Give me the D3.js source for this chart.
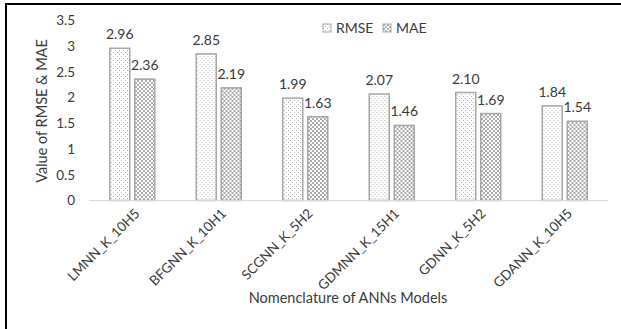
<!DOCTYPE html>
<html>
<head>
<meta charset="utf-8">
<script src="https://cdn.jsdelivr.net/npm/d3@7"></script>
<style>
	body { margin: 0; background: #fff; }
	svg { display: block; }
	text { font-family: Lato, "Open Sans", sans-serif; fill: #3a3a3a; }
</style>
</head>
<body>
<svg id="chart" width="621" height="329"></svg>
<script>
'use strict';

var categories = ['LMNN_K_10H5', 'BFGNN_K_10H1', 'SCGNN_K_5H2', 'GDMNN_K_15H1', 'GDNN_K_5H2', 'GDANN_K_10H5'];
var seriesNames = ['RMSE', 'MAE'];
var rmseValues = [2.96, 2.85, 1.99, 2.07, 2.10, 1.84];
var maeValues = [2.36, 2.19, 1.63, 1.46, 1.69, 1.54];
var yTicks = [0, 0.5, 1, 1.5, 2, 2.5, 3, 3.5];

var svg = d3.select('#chart');

// outer frame (only left and top edges visible in the crop)
svg.append('path')
	.attr('d', 'M6,340 L6,4 L630,4')
	.attr('fill', 'none')
	.attr('stroke', '#000')
	.attr('stroke-width', 2);

// patterns
var defs = svg.append('defs');
var p1 = defs.append('pattern')
	.attr('id', 'pat-rmse')
	.attr('patternUnits', 'userSpaceOnUse')
	.attr('width', 4).attr('height', 4);
p1.append('rect').attr('width', 4).attr('height', 4).attr('fill', '#fff');
p1.append('rect').attr('x', 0).attr('y', 0).attr('width', 1).attr('height', 1).attr('fill', '#b4b4b4');
p1.append('rect').attr('x', 2).attr('y', 2).attr('width', 1).attr('height', 1).attr('fill', '#b4b4b4');

var p2 = defs.append('pattern')
	.attr('id', 'pat-mae')
	.attr('patternUnits', 'userSpaceOnUse')
	.attr('width', 4).attr('height', 4);
p2.append('rect').attr('width', 4).attr('height', 4).attr('fill', '#fff');
p2.append('circle').attr('cx', 1).attr('cy', 1).attr('r', 1.1).attr('fill', '#a0a0a0');
p2.append('circle').attr('cx', 3).attr('cy', 3).attr('r', 1.1).attr('fill', '#a0a0a0');

var fills = { RMSE: 'url(#pat-rmse)', MAE: 'url(#pat-mae)' };

var x0 = d3.scaleBand()
	.domain(categories)
	.range([89, 608]);

var inner = (x0.bandwidth() - 45) / 2;
var x1 = d3.scaleBand()
	.domain(seriesNames)
	.range([inner, inner + 45])
	.paddingInner(0.2);

var y = d3.scaleLinear()
	.domain([0, 3.5])
	.range([200.5, 20.5]);

// y tick labels
svg.append('g').selectAll('text')
	.data(yTicks)
	.enter()
	.append('text')
	.attr('x', 75)
	.attr('y', function(d) { return y(d); })
	.attr('dy', '0.35em')
	.attr('text-anchor', 'end')
	.style('font-size', '13.5px')
	.text(function(d) { return d; });

// bars
var rows = categories.map(function(c, i) {
	return { cat: c, values: [
		{ key: 'RMSE', value: rmseValues[i] },
		{ key: 'MAE', value: maeValues[i] }
	] };
});

var group = svg.append('g').selectAll('g')
	.data(rows)
	.enter()
	.append('g')
	.attr('transform', function(d) { return 'translate(' + x0(d.cat) + ',0)'; });

group.selectAll('rect')
	.data(function(d) { return d.values; })
	.enter()
	.append('rect')
	.attr('x', function(d) { return x1(d.key); })
	.attr('y', function(d) { return y(d.value); })
	.attr('width', x1.bandwidth())
	.attr('height', function(d) { return y(0) - y(d.value); })
	.attr('fill', function(d) { return fills[d.key]; })
	.attr('stroke', '#a6a6a6')
	.attr('stroke-width', 1.5);

group.selectAll('text')
	.data(function(d) { return d.values; })
	.enter()
	.append('text')
	.attr('x', function(d) { return x1(d.key) + x1.bandwidth() / 2; })
	.attr('y', function(d) { return y(d.value) - 9; })
	.attr('text-anchor', 'middle')
	.style('font-size', '14px')
	.text(function(d) { return d.value.toFixed(2); });

// baseline
svg.append('line')
	.attr('x1', x0.range()[0]).attr('x2', x0.range()[1])
	.attr('y1', y(0)).attr('y2', y(0))
	.attr('stroke', '#d9d9d9')
	.attr('stroke-width', 1);

// category labels
svg.append('g').selectAll('text')
	.data(categories)
	.enter()
	.append('text')
	.attr('transform', function(d) {
		return 'translate(' + (x0(d) + x0.bandwidth() / 2 + 5) + ',211) rotate(-45)';
	})
	.attr('text-anchor', 'end')
	.attr('dy', '0.35em')
	.style('font-size', '13.5px')
	.text(function(d) { return d; });

// axis titles
svg.append('text')
	.attr('transform', 'translate(42,111) rotate(-90)')
	.attr('text-anchor', 'middle')
	.attr('dy', '0.35em')
	.style('font-size', '14.5px')
	.text('Value of RMSE & MAE');

svg.append('text')
	.attr('x', 348)
	.attr('y', 298)
	.attr('text-anchor', 'middle')
	.attr('dy', '0.35em')
	.style('font-size', '14.5px')
	.text('Nomenclature of ANNs Models');

// legend
var legend = svg.append('g').selectAll('g')
	.data(seriesNames)
	.enter()
	.append('g')
	.attr('transform', function(d, i) { return 'translate(' + (323 + i * 60) + ',28)'; });

legend.append('rect')
	.attr('x', 0).attr('y', -4)
	.attr('width', 8).attr('height', 8)
	.attr('fill', function(d) { return fills[d]; })
	.attr('stroke', '#a6a6a6')
	.attr('stroke-width', 1);

legend.append('text')
	.attr('x', 13)
	.attr('dy', '0.35em')
	.style('font-size', '14px')
	.text(function(d) { return d; });
</script>
</body>
</html>
